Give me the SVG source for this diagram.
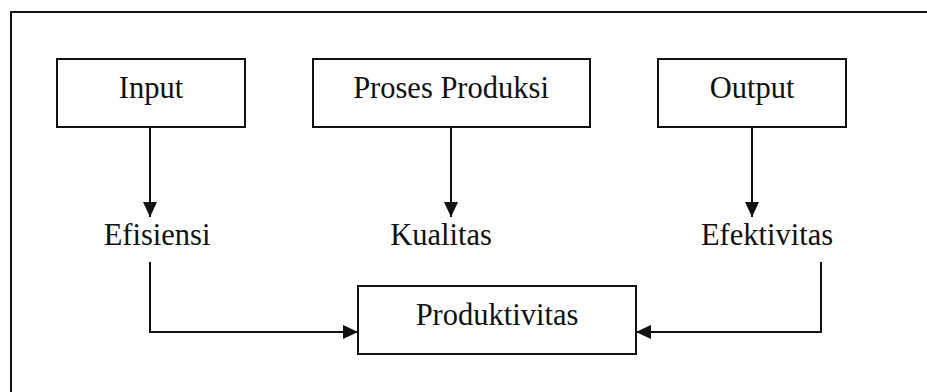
<svg xmlns="http://www.w3.org/2000/svg" width="927" height="392" viewBox="0 0 927 392">
<style>
.box{fill:#fff;stroke:#111;stroke-width:2}
.t{font-family:"Liberation Serif","Times New Roman",serif;font-size:30.5px;fill:#111;text-anchor:middle}
.c{fill:none;stroke:#111;stroke-width:2}
</style>
<defs>
<marker id="ah" viewBox="0 0 10 10" refX="10" refY="5" markerWidth="15" markerHeight="15" markerUnits="userSpaceOnUse" orient="auto">
<path d="M0,0.3 L10,5 L0,9.7 Z" fill="#111"/>
</marker>
</defs>
<rect width="927" height="392" fill="#fff"/>
<path id="frame" d="M11,392 V12 H927" fill="none" stroke="#111" stroke-width="2"/>
<g id="input"><rect class="box" x="57" y="59" width="188" height="68"/><text class="t" x="151" y="98">Input</text></g>
<g id="proses"><rect class="box" x="313" y="59" width="277" height="68"/><text class="t" x="451" y="98">Proses Produksi</text></g>
<g id="output"><rect class="box" x="658" y="59" width="188" height="68"/><text class="t" x="752" y="98">Output</text></g>
<g id="efisiensi"><text class="t" x="157" y="245">Efisiensi</text></g>
<g id="kualitas"><text class="t" x="441" y="245">Kualitas</text></g>
<g id="efektivitas"><text class="t" x="767" y="245">Efektivitas</text></g>
<g id="produktivitas"><rect class="box" x="358" y="286" width="278" height="68"/><text class="t" x="497" y="325">Produktivitas</text></g>
<g id="connectors">
<path class="c" d="M150,127 V217" marker-end="url(#ah)"/>
<path class="c" d="M451,127 V217" marker-end="url(#ah)"/>
<path class="c" d="M752,127 V217" marker-end="url(#ah)"/>
<path class="c" d="M150,262 V332 H358" marker-end="url(#ah)"/>
<path class="c" d="M821,262 V332 H636" marker-end="url(#ah)"/>
</g>
</svg>
